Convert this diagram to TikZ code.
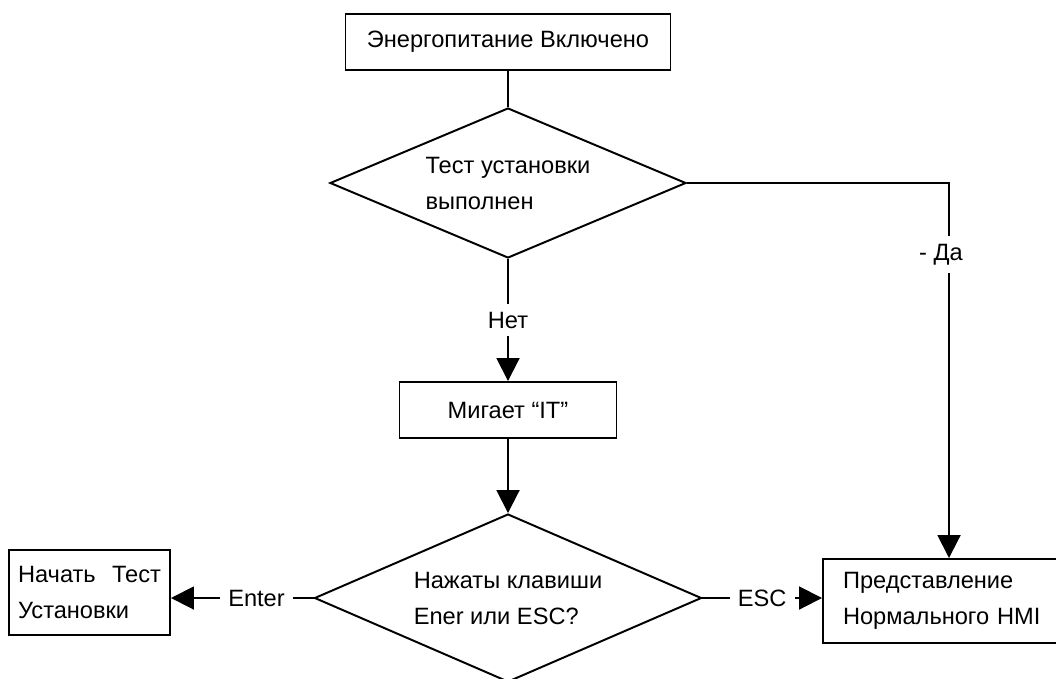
\documentclass[tikz,border=0pt]{standalone}
\usepackage{fontspec}
\setmainfont{Liberation Sans}
\usetikzlibrary{shapes.geometric,arrows.meta}
\newcommand{\pxu}{0.025cm}

\begin{document}
\begin{tikzpicture}[x=\pxu, y=-\pxu, line width=1.4pt,
    font=\fontsize{16.8}{25.6}\selectfont,
    rect/.style={draw, rectangle, inner sep=0pt, align=center},
    decide/.style={draw, diamond, aspect=2, inner sep=0pt, align=left},
    lbl/.style={fill=white, inner sep=0.2cm},
    arr/.style={-{Triangle[length=5.75mm,width=5.75mm]}}]
    \useasboundingbox (0,0) rectangle (1056,678);
    \clip (0,0) rectangle (1056,678);

    % Boxes and decisions
    \node[rect, minimum width=325*\pxu, minimum height=56*\pxu] (power) at (508,42) {Энергопитание Включено};
    \node[decide, minimum width=356*\pxu, minimum height=150*\pxu] (test) at (508,183) {Тест установки\\выполнен};
    \node[rect, minimum width=217*\pxu, minimum height=56*\pxu] (blink) at (508,410) {Мигает “IT”};
    \node[decide, minimum width=387*\pxu, minimum height=168*\pxu] (keys) at (508,598) {Нажаты клавиши\\Ener или ESC?};
    \node[rect, text width=143*\pxu, inner xsep=9*\pxu, minimum height=85*\pxu, align=left] (start) at (89.5,592.5) {Начать\hfill Тест\\Установки};
    \node[rect, text width=212*\pxu, inner xsep=20*\pxu, minimum height=84*\pxu, align=left] (hmi) at (949,601) {Представление\\Нормального HMI};

    % Connectors
    \draw (power.south) -- (test.north);
    \draw[arr] (test.south) -- node[lbl] {Нет} (blink.north);
    \draw[arr] (blink.south) -- (keys.north);
    \draw[arr] (test.east) -| node[lbl, pos=0.595, xshift=-0.2cm] {- Да} (hmi.north);
    \draw[arr] (keys.west) -- node[lbl, pos=0.4] {Enter} (keys.west -| start.east);
    \draw[arr] (keys.east) -- node[lbl] {ESC} (keys.east -| hmi.west);

\end{tikzpicture}
\end{document}
